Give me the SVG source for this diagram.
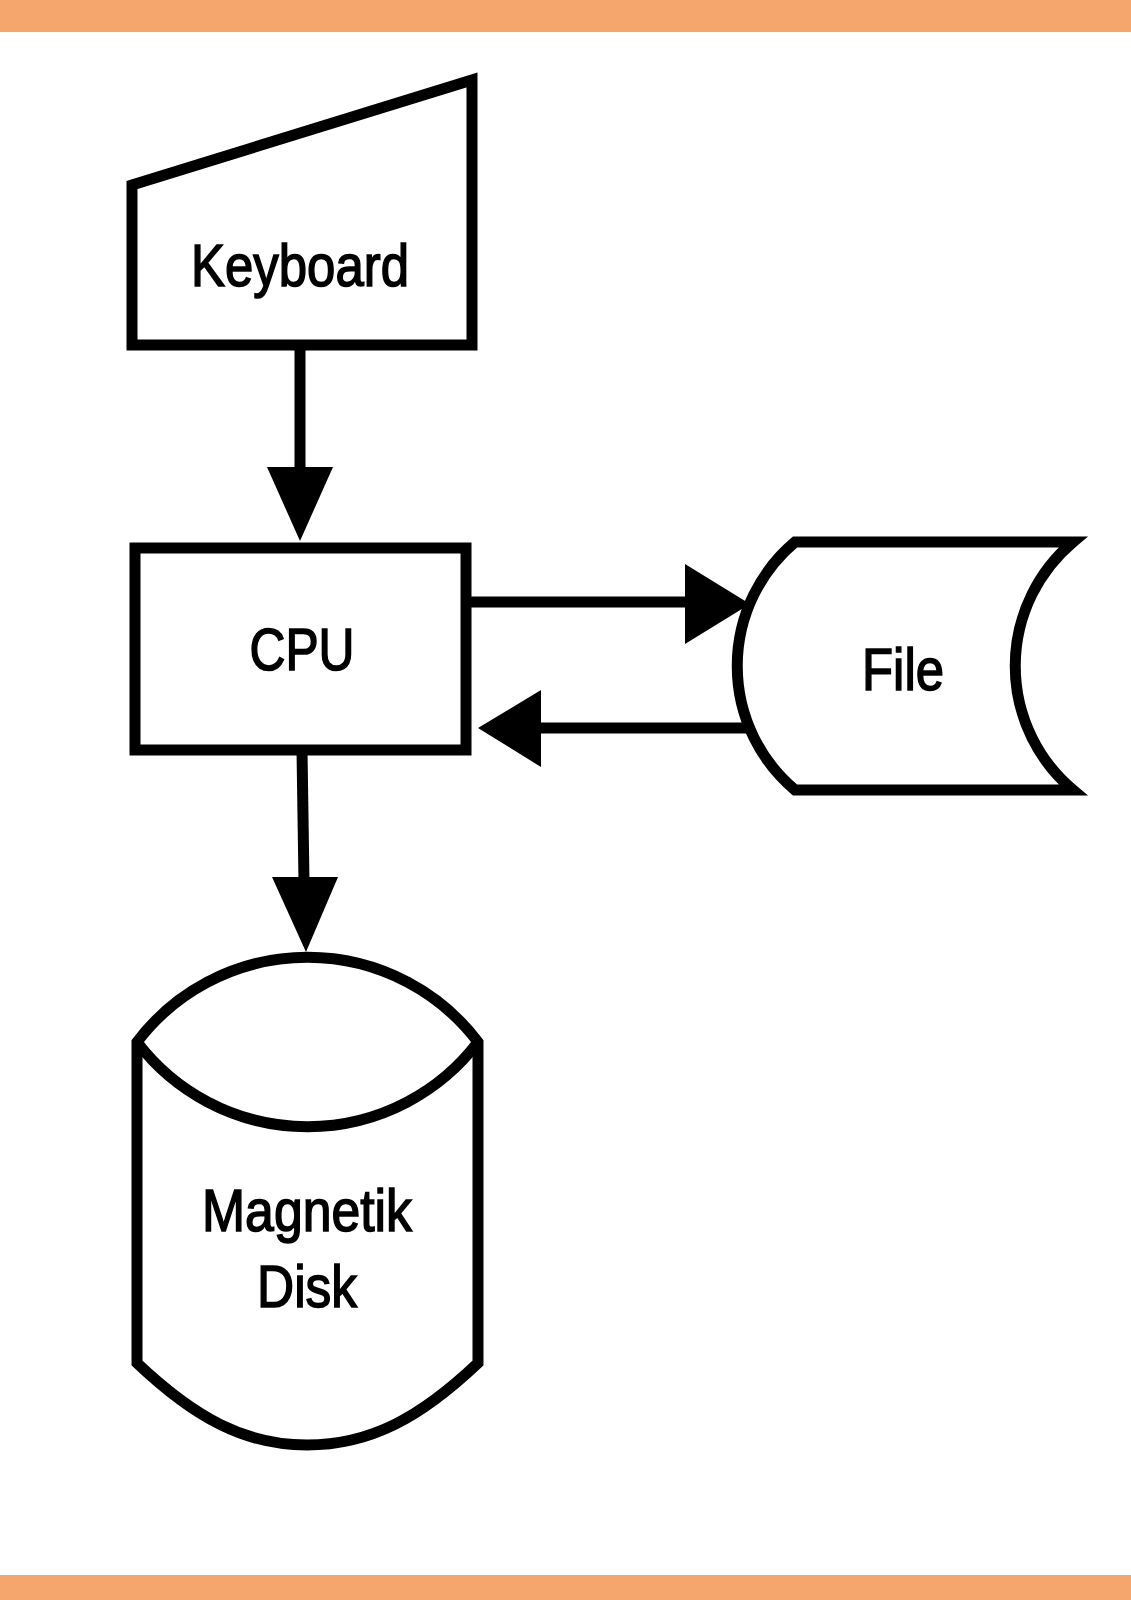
<svg xmlns="http://www.w3.org/2000/svg" width="1131" height="1600" viewBox="0 0 1131 1600">
<style>
.shape{fill:#fff;stroke:#000;stroke-width:11;stroke-linejoin:miter}
.lbl{font-family:"Liberation Sans",Arial,sans-serif;font-size:60px;fill:#000;stroke:#000;stroke-width:1.6;text-anchor:middle}
.conn{stroke:#000;stroke-width:11;fill:none}
.head{fill:#000;stroke:none}
</style>
<rect x="0" y="0" width="1131" height="1600" fill="#fff"/>
<rect x="0" y="0" width="1131" height="32" fill="#F4A66C"/>
<rect x="0" y="1575" width="1131" height="25" fill="#F4A66C"/>
<g id="connectors">
<line class="conn" x1="300" y1="345" x2="300" y2="472"/>
<polygon class="head" points="267,467 333,467 300,541"/>
<line class="conn" x1="466" y1="602" x2="690" y2="602"/>
<polygon class="head" points="685,564 750,604 685,644"/>
<line class="conn" x1="750" y1="728" x2="536" y2="728"/>
<polygon class="head" points="541,690 478,728 541,767"/>
<line class="conn" x1="302" y1="750" x2="304" y2="882"/>
<polygon class="head" points="272,877 338,877 306,952"/>
</g>
<g id="keyboard">
<polygon class="shape" points="132,185 472,80 472,345 132,345"/>
<text class="lbl" x="300" y="286" textLength="218" lengthAdjust="spacingAndGlyphs">Keyboard</text>
</g>
<g id="cpu">
<rect class="shape" x="135" y="548" width="331" height="202"/>
<text class="lbl" x="302" y="670" textLength="105" lengthAdjust="spacingAndGlyphs">CPU</text>
</g>
<g id="file">
<path class="shape" d="M795,542 L1073,542 A162 162 0 0 0 1073,790 L795,790 A162 162 0 0 1 795,542 Z"/>
<text class="lbl" x="903" y="690" textLength="82" lengthAdjust="spacingAndGlyphs">File</text>
</g>
<g id="disk">
<path class="shape" d="M137,1042 A214 214 0 0 1 478,1042 L478,1363 C420,1418 370,1445 307,1445 C245,1445 195,1418 137,1363 Z"/>
<path class="shape" fill="none" d="M137,1042 A214 214 0 0 0 478,1042"/>
<text class="lbl" x="307" y="1231" textLength="210" lengthAdjust="spacingAndGlyphs">Magnetik</text>
<text class="lbl" x="307" y="1307" textLength="100" lengthAdjust="spacingAndGlyphs">Disk</text>
</g>
</svg>
